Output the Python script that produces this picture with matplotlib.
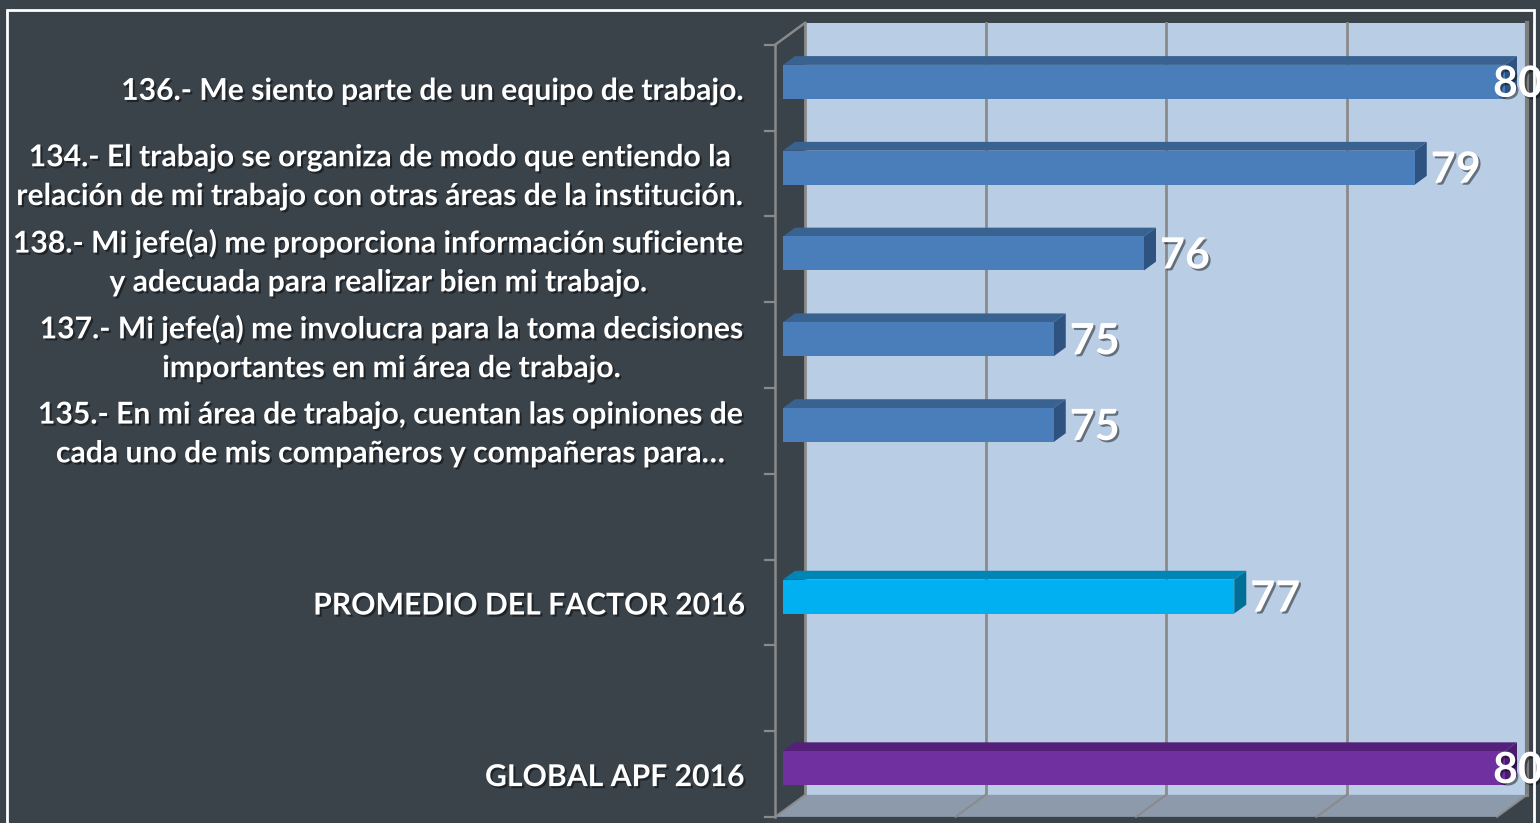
import matplotlib
matplotlib.use("Agg")
import matplotlib.pyplot as plt
import matplotlib.patheffects as pe
from matplotlib.patches import Polygon, Rectangle
from matplotlib.transforms import IdentityTransform, offset_copy

plt.rcParams["font.family"] = ["Lato", "DejaVu Sans"]

# Data
preguntas = [
    "136.- Me siento parte de un equipo de trabajo.",
    "134.- El trabajo se organiza de modo que entiendo la\nrelación de mi trabajo con otras áreas de la institución.",
    "138.- Mi jefe(a) me proporciona información suficiente\ny adecuada para realizar bien mi trabajo.",
    "137.- Mi jefe(a) me involucra para la toma decisiones\nimportantes en mi área de trabajo.",
    "135.- En mi área de trabajo, cuentan las opiniones de\ncada uno de mis compañeros y compañeras para…",
]
valores = [80, 79, 76, 75, 75]
promedio_label = "PROMEDIO DEL FACTOR 2016"
promedio = 77
global_label = "GLOBAL APF 2016"
global_val = 80

xmin, xmax = 72, 80
xticks = [72, 74, 76, 78, 80]

# colours: front, top, side
BLUE = ("#4a7ebb", "#3a6291", "#2f5381")
CYAN = ("#00b0f0", "#0086b6", "#006f97")
PURPLE = ("#7030a0", "#54207a", "#4a1c6c")
BG = "#3a424a"
WALL = "#b9cde5"
FLOOR = "#8d9aab"
GRID = "#8a8a8a"

rows = list(range(len(preguntas))) + [6, 8]
labels = preguntas + [promedio_label, global_label]
vals = valores + [promedio, global_val]
colors = [BLUE] * len(preguntas) + [CYAN, PURPLE]
n_cat = 9

W, H = 1540, 823
fig = plt.figure(figsize=(W / 100, H / 100), dpi=100, facecolor=BG)
ax = fig.add_axes([783 / W, 12 / H, 722 / W, 772 / H])
ax.set_xlim(xmin, xmax)
ax.set_ylim(n_cat - 0.5, -0.5)
ax.axis("off")

SLOPE = 0.733
D_FRONT, D_BAR, D_BACK = -8, 12, 22


def proj(x, y, d):
    px, py = ax.transData.transform((x, y))
    return (px + d, py + d * SLOPE)


def poly(pts, fc, ec="none", lw=0, z=1):
    p = Polygon(pts, closed=True, fc=fc, ec=ec, lw=lw,
                transform=IdentityTransform(), clip_on=False, zorder=z)
    ax.add_patch(p)


def line(p0, p1, color=GRID, lw=1.6, z=2):
    ax.add_line(plt.Line2D([p0[0], p1[0]], [p0[1], p1[1]], color=color, lw=lw,
                           transform=IdentityTransform(), clip_on=False, zorder=z))


top, bot = -0.5, n_cat - 0.5

# back wall
poly([proj(xmin, top, D_BACK), proj(xmax, top, D_BACK),
      proj(xmax, bot, D_BACK), proj(xmin, bot, D_BACK)], WALL, z=0.5)
for x in xticks:
    line(proj(x, top, D_BACK), proj(x, bot, D_BACK), lw=2.0, z=0.6)
line(proj(xmax, top, D_BACK), proj(xmax, bot, D_BACK), color="#7d7d7d", lw=3, z=0.6)

# floor
poly([proj(xmin, bot, D_FRONT), proj(xmax, bot, D_FRONT),
      proj(xmax, bot, D_BACK), proj(xmin, bot, D_BACK)], FLOOR, z=0.7)
for x in xticks:
    line(proj(x, bot, D_FRONT), proj(x, bot, D_BACK), lw=1.4, z=0.8)

# left axis with ticks
line(proj(xmin, top, D_FRONT), proj(xmin, bot, D_FRONT), lw=1.8, z=0.9)
line(proj(xmin, top, D_FRONT), proj(xmin, top, D_BACK), lw=1.8, z=0.9)
for k in range(n_cat + 1):
    p = proj(xmin, k - 0.5, D_FRONT)
    line((p[0] - 10, p[1]), p, lw=1.6, z=0.9)

# bars
h = 34 / 85.8
for r, v, (cf, ct, cs) in zip(rows, vals, colors):
    ve = min(v, xmax)
    yt, yb = r - h / 2, r + h / 2
    poly([proj(xmin, yt, 0), proj(ve, yt, 0), proj(ve, yt, D_BAR), proj(xmin, yt, D_BAR)], ct, z=2)
    poly([proj(ve, yt, 0), proj(ve, yb, 0), proj(ve, yb, D_BAR), proj(ve, yt, D_BAR)], cs, z=2)
ax.barh(rows, [min(v, xmax) - xmin for v in vals], left=xmin, height=h,
        color=[c[0] for c in colors], zorder=3)

shadow = [pe.withSimplePatchShadow(offset=(1.5, -1.5), shadow_rgbFace="black", alpha=0.45)]

# value labels
for r, v in zip(rows, vals):
    off = -12 if v >= xmax else 16
    tr = offset_copy(ax.transData, fig, x=off, y=-2, units="dots")
    ax.text(min(v, xmax), r, f"{v:.0f}", transform=tr, ha="left", va="center",
            color="white", fontsize=31, fontweight="bold", zorder=5,
            clip_on=False, path_effects=shadow)

# category labels
for r, lab in zip(rows, labels):
    tr = offset_copy(ax.transData, fig, x=-39, y=-9, units="dots")
    ax.text(xmin, r, lab, transform=tr, ha="right", va="center",
            multialignment="center", color="white", fontsize=21.7,
            fontweight="bold", linespacing=1.47, path_effects=shadow)

# outer frame
fig.add_artist(Rectangle((7 / W, -0.05), 1527 / W, 1.05 - 10 / H, transform=fig.transFigure,
                         fill=False, ec="white", lw=2))

fig.savefig("out.png", dpi=100, facecolor=BG)
